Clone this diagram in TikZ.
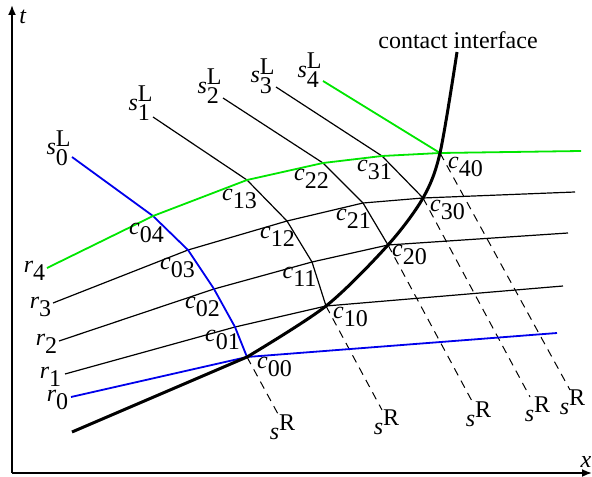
\documentclass[tikz,border=0pt]{standalone}
\usepackage{fontspec}
\setmainfont{Liberation Serif}
\usetikzlibrary{arrows.meta}
\definecolor{bluewave}{RGB}{0, 0, 235}
\definecolor{greenwave}{RGB}{0, 230, 0}

\begin{document}
\begin{tikzpicture}[x=0.5pt, y=0.5pt, font=\fontsize{12}{14}\selectfont,
    lab/.style={inner sep=0pt, anchor=center},
    gridline/.style={black, line width=0.6pt},
    bluegrid/.style={bluewave, line width=0.9pt},
    greengrid/.style={greenwave, line width=0.9pt},
    contact/.style={black, line width=1.5pt},
    rightwave/.style={black, line width=0.5pt, dash pattern=on 4pt off 3pt}]
\useasboundingbox (0,0) rectangle (592,476);

% Axes
\coordinate (origin) at (12,3);
\coordinate (xend) at (592,3);
\coordinate (yend) at (12,471);
\draw[-{Latex[length=5pt, width=4pt]}, line width=0.9pt] (origin) -- (yend);
\draw[-{Latex[length=5pt, width=4pt]}, line width=0.9pt] (origin) -- (xend);
\node[lab] (tlab) at (23,459) {\textit{t}};
\node[lab] (xlab) at (586,14) {\textit{x}};

% Grid points
\coordinate (c00) at (247,119);
\coordinate (c01) at (235,149);
\coordinate (c02) at (214,187);
\coordinate (c03) at (188,226);
\coordinate (c04) at (153,260);
\coordinate (c10) at (326,170);
\coordinate (c11) at (312,214);
\coordinate (c12) at (287,255);
\coordinate (c13) at (247,296);
\coordinate (c20) at (388,231);
\coordinate (c21) at (363,273);
\coordinate (c22) at (323,313);
\coordinate (c30) at (423,278);
\coordinate (c31) at (382,320);
\coordinate (c40) at (440,323);

% Free ends of the lines
\coordinate (s0s) at (72,319);
\coordinate (s1s) at (153,359);
\coordinate (s2s) at (223,378);
\coordinate (s3s) at (276,389);
\coordinate (s4s) at (323,395);
\coordinate (r0s) at (71,79);
\coordinate (r1s) at (65,102);
\coordinate (r2s) at (59,135);
\coordinate (r3s) at (53,173);
\coordinate (r4s) at (47,208);
\coordinate (r0e) at (557,143);
\coordinate (r1e) at (563,190);
\coordinate (r2e) at (568,243);
\coordinate (r3e) at (575,284);
\coordinate (r4e) at (581,325);
\coordinate (d0) at (278,62);
\coordinate (d1) at (382,66);
\coordinate (d2) at (473,73);
\coordinate (d3) at (530,79);
\coordinate (d4) at (570,86);
\coordinate (ci0) at (72,44);
\coordinate (ci1) at (457,424);

% Right-going waves (dashed)
\draw[rightwave] (c00) -- (d0);
\draw[rightwave] (c10) -- (d1);
\draw[rightwave] (c20) -- (d2);
\draw[rightwave] (c30) -- (d3);
\draw[rightwave] (c40) -- (d4);

% Black grid
\draw[gridline] (r1s) -- (c01) -- (c10) -- (r1e);
\draw[gridline] (r2s) -- (c02) -- (c11) -- (c20) -- (r2e);
\draw[gridline] (r3s) -- (c03) -- (c12) -- (c21) -- (c30) -- (r3e);
\draw[gridline] (s1s) -- (c13) -- (c12) -- (c11) -- (c10);
\draw[gridline] (s2s) -- (c22) -- (c21) -- (c20);
\draw[gridline] (s3s) -- (c31) -- (c30);

% Blue and green lines
\draw[bluegrid] (r0s) -- (c00) -- (r0e);
\draw[bluegrid] (s0s) -- (c04) -- (c03) -- (c02) -- (c01) -- (c00);
\draw[greengrid] (r4s) -- (c04) -- (c13) -- (c22) -- (c31) -- (c40) -- (r4e);
\draw[greengrid] (s4s) -- (c40);

% Contact interface
\draw[contact] (ci0) -- (c00)
    plot[smooth, tension=0.5] coordinates {(c00) (c10) (c20) (c30) (c40) (ci1)};
\node[lab] (cilab) at (458,436) {contact interface};

% Labels of the lines
\node[lab] (r0lab) at (58,76) {$\textit{r}_{\textrm{0}}$};
\node[lab] (r1lab) at (51,99) {$\textit{r}_{\textrm{1}}$};
\node[lab] (r2lab) at (47,132) {$\textit{r}_{\textrm{2}}$};
\node[lab] (r3lab) at (41,169) {$\textit{r}_{\textrm{3}}$};
\node[lab] (r4lab) at (35,205) {$\textit{r}_{\textrm{4}}$};
\node[lab] (s0lab) at (59,328) {$\textit{s}_{\textrm{0}}^{\textrm{L}}$};
\node[lab] (s1lab) at (141,373) {$\textit{s}_{\textrm{1}}^{\textrm{L}}$};
\node[lab] (s2lab) at (210,390) {$\textit{s}_{\textrm{2}}^{\textrm{L}}$};
\node[lab] (s3lab) at (263,400) {$\textit{s}_{\textrm{3}}^{\textrm{L}}$};
\node[lab] (s4lab) at (310,406) {$\textit{s}_{\textrm{4}}^{\textrm{L}}$};
\node[lab] (sR0lab) at (283,49) {$\textit{s}^{\textrm{R}}$};
\node[lab] (sR1lab) at (387,54) {$\textit{s}^{\textrm{R}}$};
\node[lab] (sR2lab) at (479,62) {$\textit{s}^{\textrm{R}}$};
\node[lab] (sR3lab) at (538,67) {$\textit{s}^{\textrm{R}}$};
\node[lab] (sR4lab) at (573,74) {$\textit{s}^{\textrm{R}}$};

% Labels of the grid points
\node[lab] (c00lab) at (275,109) {$\textit{c}_{\textrm{00}}$};
\node[lab] (c10lab) at (351,159) {$\textit{c}_{\textrm{10}}$};
\node[lab] (c20lab) at (410,221) {$\textit{c}_{\textrm{20}}$};
\node[lab] (c30lab) at (448,266) {$\textit{c}_{\textrm{30}}$};
\node[lab] (c40lab) at (466,309) {$\textit{c}_{\textrm{40}}$};
\node[lab] (c01lab) at (223,136) {$\textit{c}_{\textrm{01}}$};
\node[lab] (c02lab) at (203,169) {$\textit{c}_{\textrm{02}}$};
\node[lab] (c03lab) at (178,208) {$\textit{c}_{\textrm{03}}$};
\node[lab] (c04lab) at (147,243) {$\textit{c}_{\textrm{04}}$};
\node[lab] (c11lab) at (300,199) {$\textit{c}_{\textrm{11}}$};
\node[lab] (c12lab) at (278,239) {$\textit{c}_{\textrm{12}}$};
\node[lab] (c13lab) at (240,277) {$\textit{c}_{\textrm{13}}$};
\node[lab] (c21lab) at (354,257) {$\textit{c}_{\textrm{21}}$};
\node[lab] (c22lab) at (312,297) {$\textit{c}_{\textrm{22}}$};
\node[lab] (c31lab) at (375,306) {$\textit{c}_{\textrm{31}}$};

\end{tikzpicture}
\end{document}
